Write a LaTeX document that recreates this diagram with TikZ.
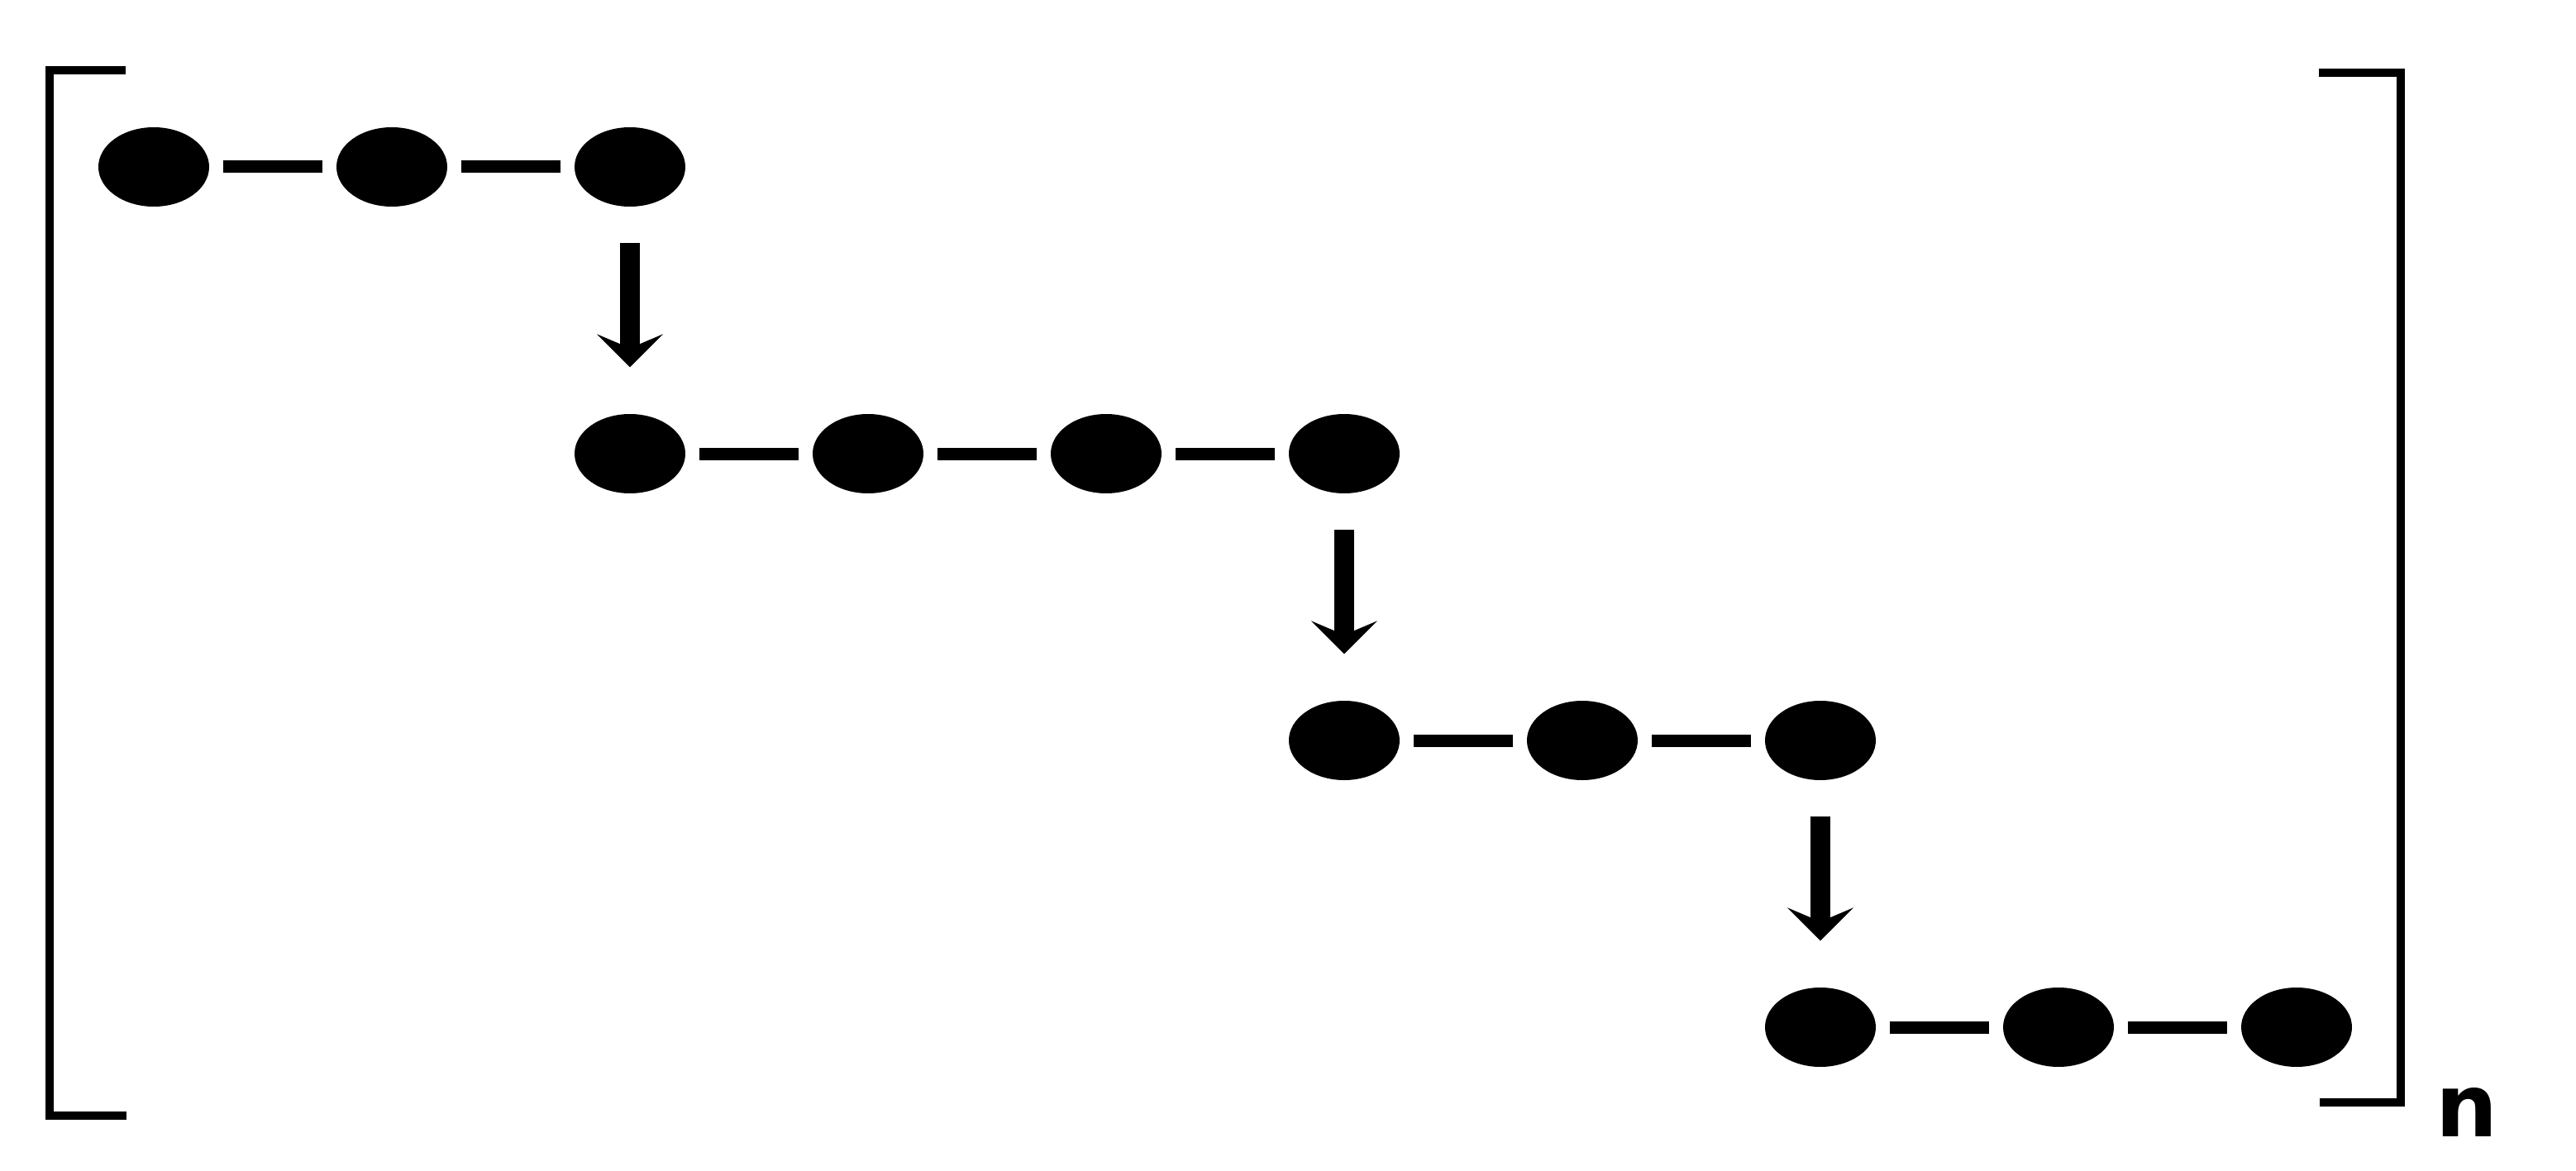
\documentclass[tikz,border=0pt]{standalone}
\usepackage{fontspec}
\setsansfont{DejaVu Sans}
\usetikzlibrary{positioning, shapes.geometric, arrows.meta}

\begin{document}
\begin{tikzpicture}[dot/.style={ellipse, fill=black, inner sep=0pt,
		minimum width=1.34cm, minimum height=0.96cm},
	bond/.style={line width=0.15cm, shorten <=0.16cm, shorten >=0.16cm},
	step arrow/.style={line width=0.24cm, shorten <=0.43cm, shorten >=0.56cm,
		-{Stealth[length=0.4cm, width=0.8cm, inset=0.17cm, line width=0pt]}},
	brack/.style={line width=0.1cm},
	on grid, node distance=2.88cm]
	\useasboundingbox (0,0) rectangle (31.16,14.16);

	% first row
	\node[dot] (a1) at (1.86,12.14) {};
	\node[dot, right=of a1] (a2) {};
	\node[dot, right=of a2] (a3) {};
	% second row
	\node[dot, below=3.47cm of a3] (b1) {};
	\node[dot, right=of b1] (b2) {};
	\node[dot, right=of b2] (b3) {};
	\node[dot, right=of b3] (b4) {};
	% third row
	\node[dot, below=3.47cm of b4] (c1) {};
	\node[dot, right=of c1] (c2) {};
	\node[dot, right=of c2] (c3) {};
	% fourth row
	\node[dot, below=3.47cm of c3] (d1) {};
	\node[dot, right=of d1] (d2) {};
	\node[dot, right=of d2] (d3) {};

	\draw[bond] (a1) -- (a2);
	\draw[bond] (a2) -- (a3);
	\draw[bond] (b1) -- (b2);
	\draw[bond] (b2) -- (b3);
	\draw[bond] (b3) -- (b4);
	\draw[bond] (c1) -- (c2);
	\draw[bond] (c2) -- (c3);
	\draw[bond] (d1) -- (d2);
	\draw[bond] (d2) -- (d3);

	\draw[step arrow] (a3) -- (b1);
	\draw[step arrow] (b4) -- (c1);
	\draw[step arrow] (c3) -- (d1);

	% brackets
	\coordinate (lt) at (1.52,13.31);
	\coordinate (lb) at (1.53,0.66);
	\coordinate (rt) at (28.05,13.28);
	\coordinate (rb) at (28.06,0.82);
	\draw[brack] (lt) -- (0.60,13.31) -- (0.60,0.66) -- (lb);
	\draw[brack] (rt) -- (29.04,13.28) -- (29.04,0.82) -- (rb);
	\node[font=\sffamily\bfseries\fontsize{30}{30}\selectfont, anchor=base, inner sep=0pt]
		(rep) at (29.84,0.41) {n};
\end{tikzpicture}
\end{document}
